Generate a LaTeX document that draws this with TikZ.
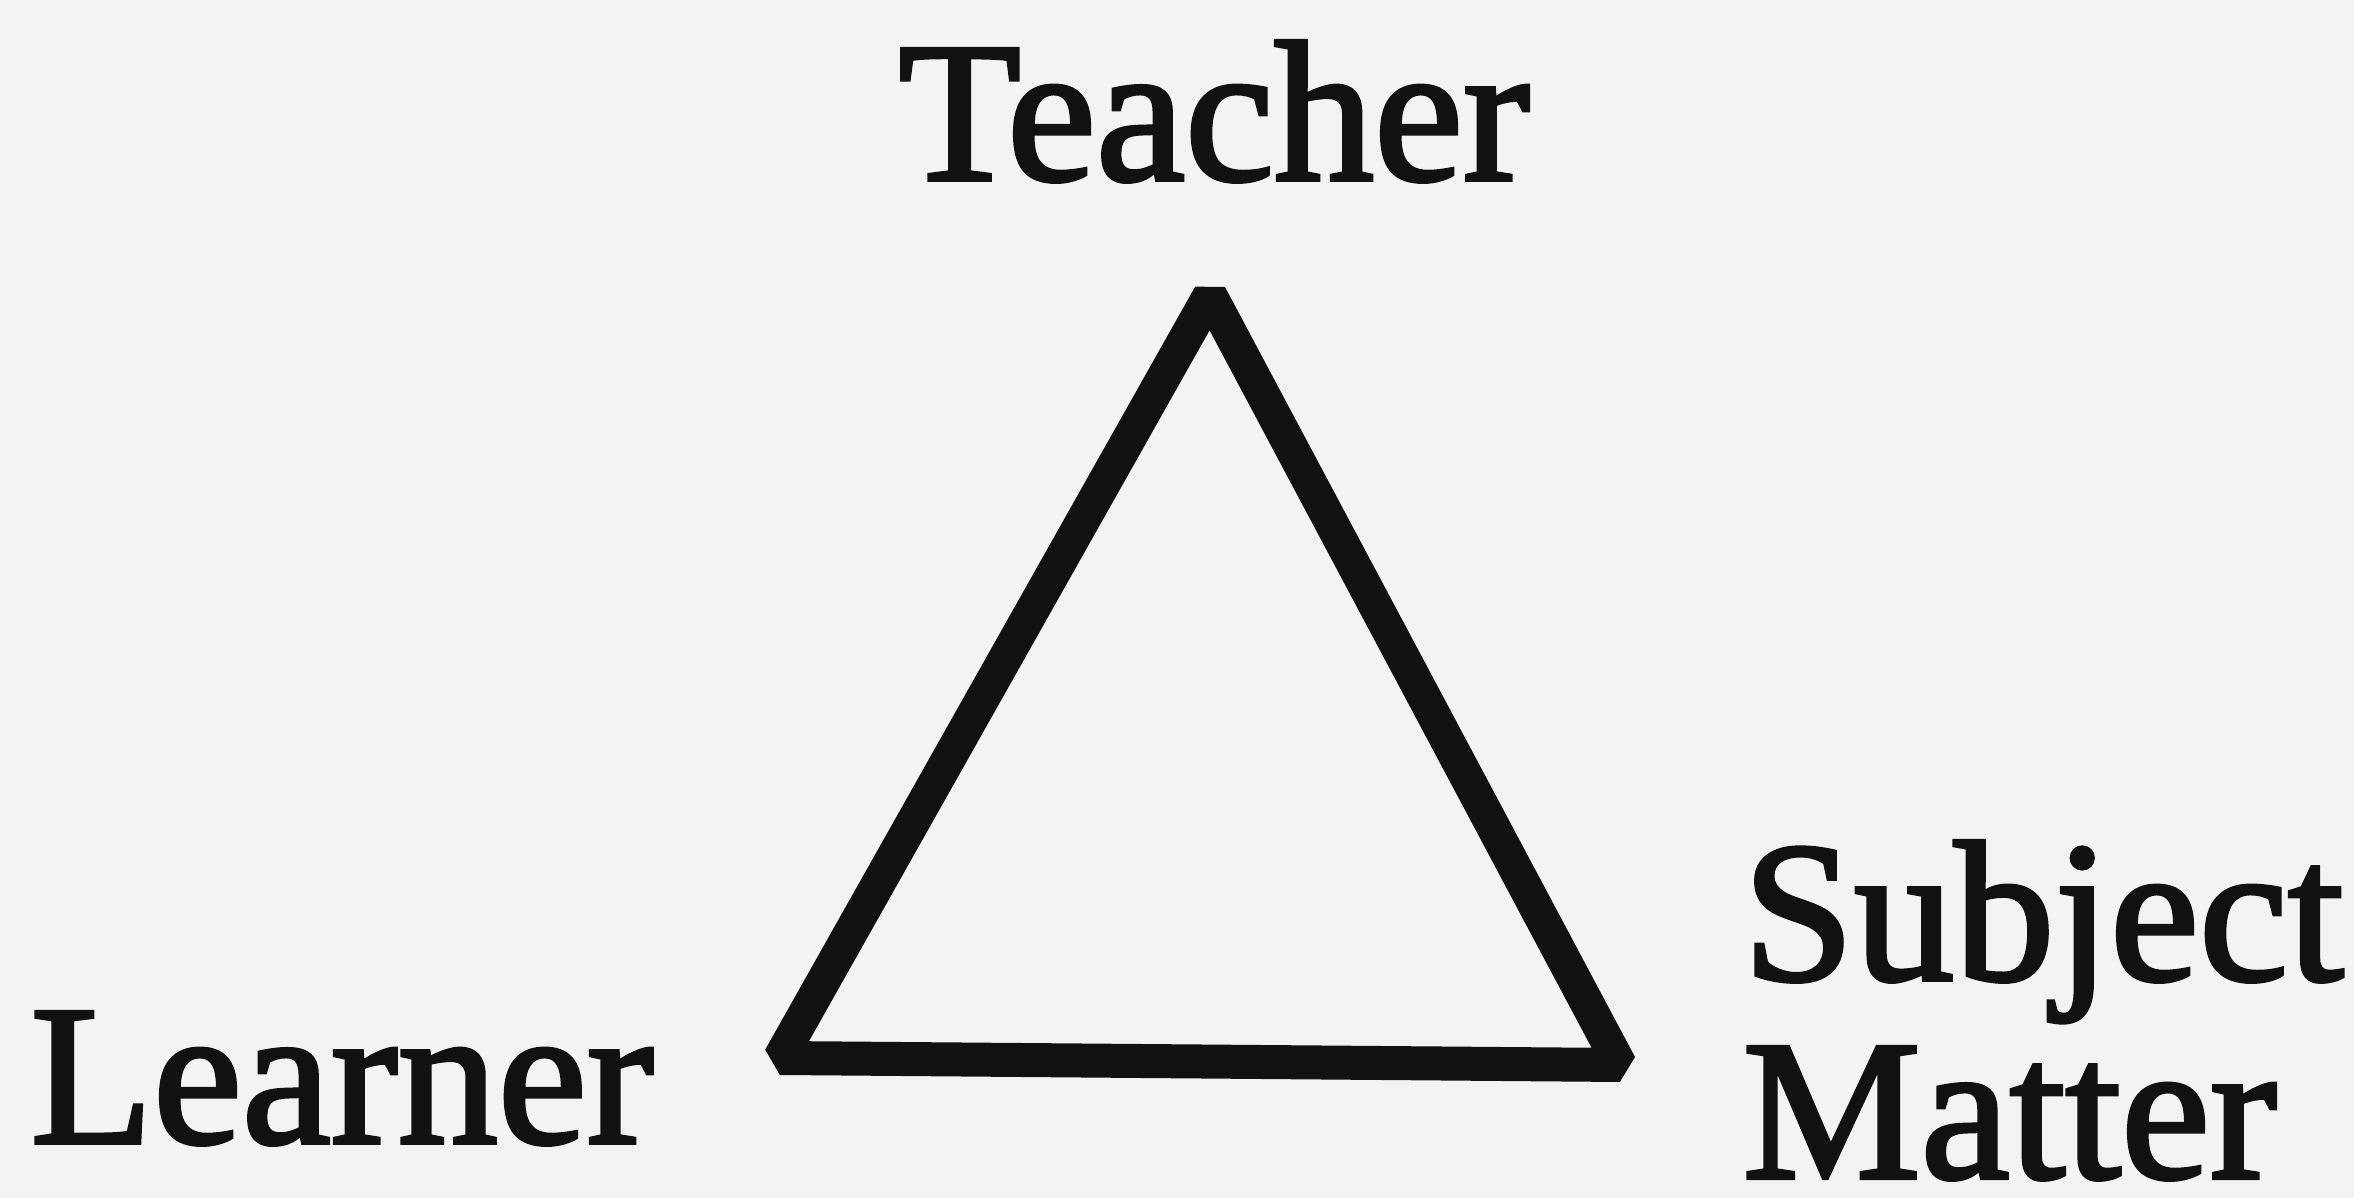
\documentclass[tikz,border=0pt]{standalone}
\usepackage{fontspec}
\setmainfont{Liberation Serif}
\newfontfamily\scanfont[FakeBold=2]{Liberation Serif}
\usepackage{xcolor}
\usepackage{tikz}
\usetikzlibrary{positioning,calc}
\definecolor{pageGray}{HTML}{F3F3F3}
\definecolor{inkBlack}{HTML}{111111}

\begin{document}
\begin{tikzpicture}[font=\scanfont\fontsize{57}{57}\selectfont,
    corner/.style={inner sep=0pt, text=inkBlack}]
  % page
  \useasboundingbox (0,0) rectangle (23.54,11.98);
  \fill[pageGray] (0,0) rectangle (23.54,11.98);
  % corners of the triangle
  \coordinate (top)   at (12.10,9.03);
  \coordinate (left)  at (7.80,1.40);
  \coordinate (right) at (16.20,1.33);
  \draw[inkBlack, line width=3.4mm, line join=bevel] (top) -- (left) -- (right) -- cycle;
  % labels
  \node[corner, anchor=base]      (teacher) at (12.14,10.18) {Teacher};
  \node[corner, anchor=base west] (learner) at (0.30,0.55)   {Learner};
  \node[corner, anchor=base west] (subject) at (17.42,2.18)  {Subject};
  \node[corner, anchor=base west] (matter)  at ([yshift=-1.98cm]subject.base west) {Matter};
\end{tikzpicture}
\end{document}
